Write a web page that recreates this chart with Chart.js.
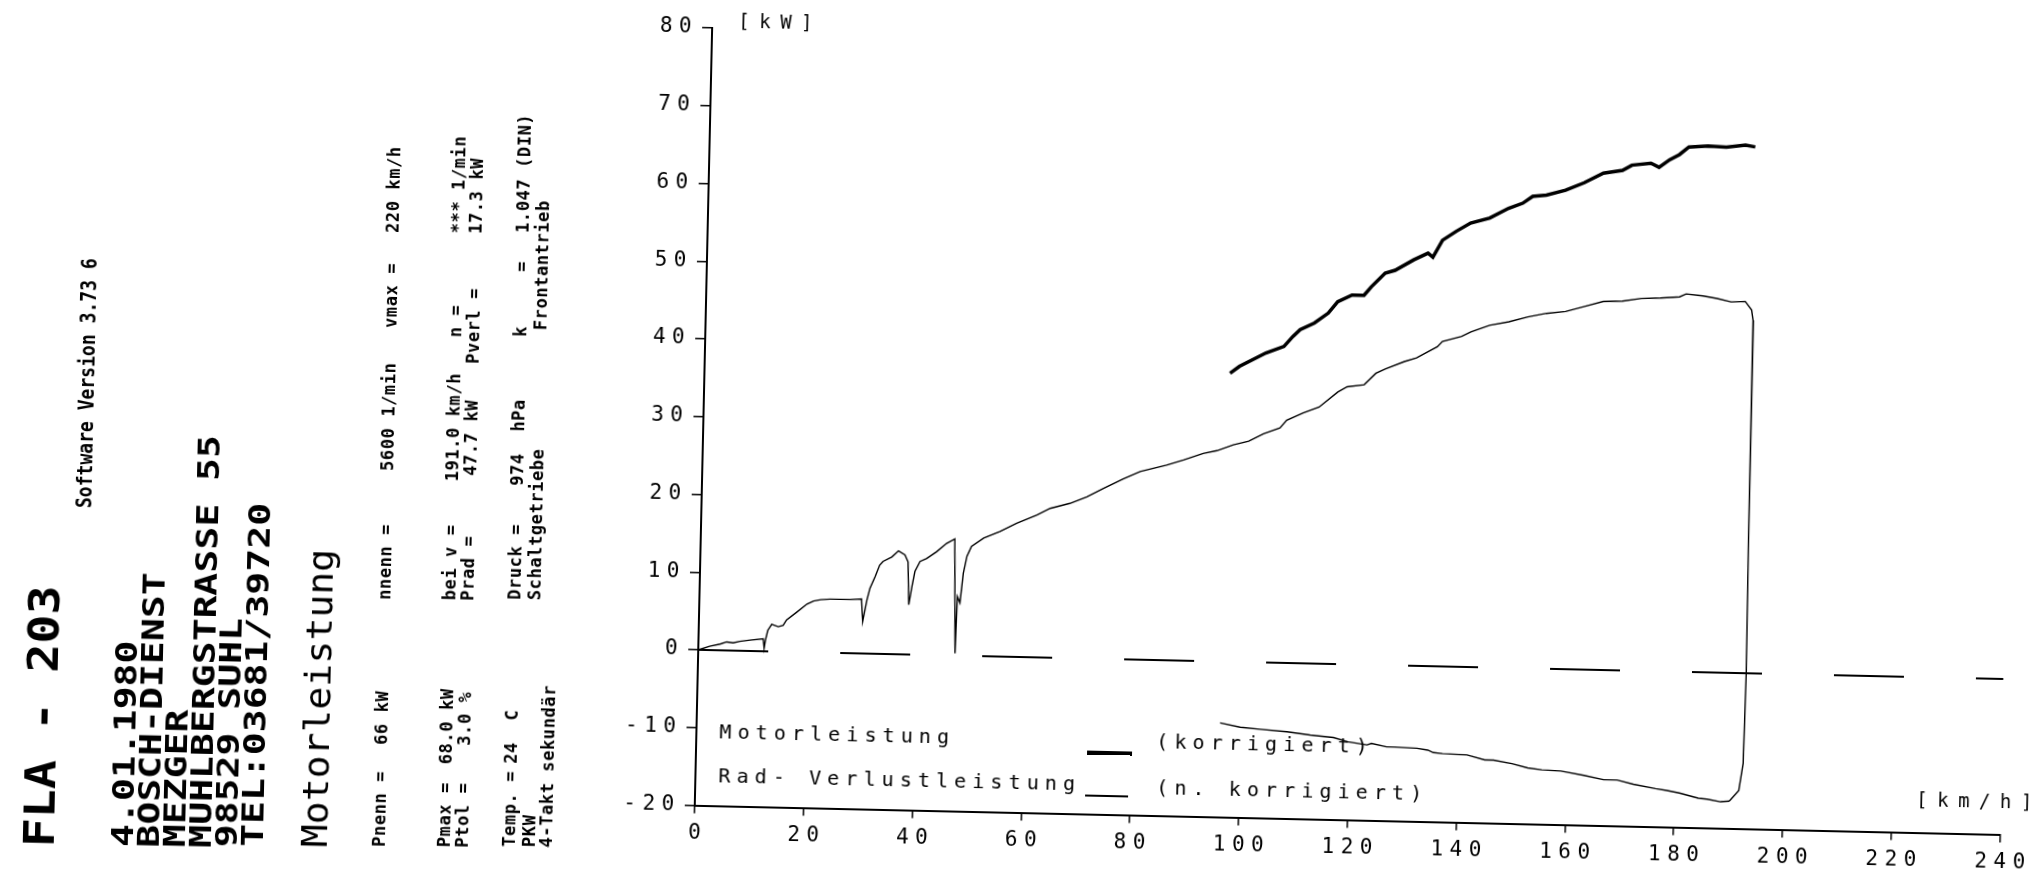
<!DOCTYPE html>
<html>
<head>
<meta charset="utf-8">
<title>Motorleistung</title>
<script src="https://cdn.jsdelivr.net/npm/chart.js@4.4.1/dist/chart.umd.min.js"></script>
<style>
  html, body { margin: 0; padding: 0; background: #fff; overflow: hidden; }
  #page {
    position: absolute; left: 0; top: 0; width: 2043px; height: 881px;
    transform-origin: 1021.5px 440.5px; transform: rotate(1.28deg);
  }
  #chart { position: absolute; left: 0; top: 0; }
  .vt {
    position: absolute; transform-origin: 0 0; white-space: pre; line-height: 1;
    font-family: "DejaVu Sans Mono", monospace; color: #000;
  }
  .fla { font-size: 42px; font-weight: bold; }
  .big { font-size: 30px; font-weight: bold; }
  .soft { font-size: 22px; font-weight: bold; }
  .motor { font-size: 35px; }
  .small { font-size: 17px; font-weight: bold; letter-spacing: 0.6px; }
  .leg {
    position: absolute; white-space: pre; line-height: 1; color: #000;
    font-family: "DejaVu Sans Mono", monospace; font-size: 20px; letter-spacing: 6.1px;
  }
  .mark { position: absolute; background: #000; }
</style>
</head>
<body>
<div id="page">
  <canvas id="chart" width="2100" height="881" style="width:2100px;height:881px"></canvas>

  <div class="leg" style="left:726px;top:728px">Motorleistung</div>
  <div class="mark" style="left:1094px;top:749px;width:45px;height:3.5px"></div>
  <div class="leg" style="left:1163px;top:728px">(korrigiert)</div>
  <div class="leg" style="left:726px;top:772px">Rad- Verlustleistung</div>
  <div class="mark" style="left:1093px;top:793px;width:43px;height:1.5px"></div>
  <div class="leg" style="left:1164px;top:774px">(n. korrigiert)</div>
</div>

<script>
// speed axis [km/h] and power axis [kW]
const kmhTicks = [0, 20, 40, 60, 80, 100, 120, 140, 160, 180, 200, 220, 240];
const kwTicks = [-20, -10, 0, 10, 20, 30, 40, 50, 60, 70, 80];

// Motorleistung (korrigiert), thick line
const motorKmh = [96.6, 98.3, 100.7, 103.1, 106.4, 108.0, 109.3, 111.9, 114.4, 116.1, 118.7, 120.9,
  122.2, 124.7, 126.5, 129.9, 132.5, 133.4, 135.1, 137.6, 140.2, 143.7, 147.1, 149.7, 151.5, 154.0,
  157.5, 160.9, 164.4, 167.9, 169.6, 173.1, 174.6, 176.5, 178.3, 180.0, 183.5, 186.9, 190.4, 192.2];
const motorKw = [37.1, 38.0, 38.9, 39.8, 40.7, 42.0, 42.9, 43.8, 45.1, 46.6, 47.5, 47.5,
  48.6, 50.4, 50.8, 52.2, 53.1, 52.6, 54.8, 56.0, 57.1, 57.8, 59.1, 59.8, 60.7, 60.9,
  61.6, 62.6, 63.9, 64.3, 65.0, 65.3, 64.8, 65.8, 66.5, 67.5, 67.7, 67.6, 67.9, 67.7];

// Radleistung, thin line, run up to v max and the drop at the end
const radKmh = [0, 2.1, 4.0, 5.2, 6.4, 7.6, 9.5, 11.9, 12.1, 12.3, 12.7, 13.4, 14.6, 15.5, 16.1,
  17.9, 19.8, 21.0, 22.3, 24.0, 27.7, 29.8, 30.1, 30.8, 31.3, 32.2, 33.0, 33.6, 35.2, 36.4, 37.6,
  38.2, 38.5, 39.0, 39.5, 40.4, 41.6, 43.4, 45.2, 46.7, 47.2, 47.4, 47.9, 48.4, 49.0, 49.8, 52.0,
  55.0, 58.0, 61.7, 64.1, 67.7, 70.8, 73.8, 77.4, 80.5, 85.3, 88.4, 92.0, 94.5, 97.5, 100.3, 103.0,
  106.0, 107.2, 110.2, 113.1, 116.5, 118.2, 121.3, 123.4, 125.1, 128.6, 130.8, 134.6, 135.5, 139.0,
  140.7, 144.1, 147.6, 151.1, 154.5, 158.0, 161.5, 164.9, 168.4, 171.9, 175.4, 178.9, 180.1, 183.2,
  185.8, 188.4, 191.0, 192.2, 192.5, 192.6, 192.5, 192.6, 192.7, 192.5, 191.8, 190.1];
const radKw = [0, 0.5, 0.8, 1.1, 1.0, 1.2, 1.4, 1.6, 0.4, 1.4, 2.7, 3.5, 3.2, 3.4, 4.1,
  5.1, 6.2, 6.6, 6.8, 6.9, 6.9, 7.0, 4.1, 6.9, 8.4, 9.9, 11.4, 11.9, 12.5, 13.3, 12.8,
  11.9, 6.4, 8.7, 10.7, 12.0, 12.4, 13.3, 14.4, 15.0, 0.3, 7.6, 6.8, 10.6, 12.8, 14.1, 15.2,
  16.1, 17.2, 18.3, 19.2, 19.9, 20.8, 21.9, 23.2, 24.2, 25.1, 25.8, 26.7, 27.1, 27.9, 28.4, 29.4,
  30.2, 31.2, 32.2, 33.0, 35.0, 35.7, 36.0, 37.5, 38.1, 39.1, 39.6, 41.1, 41.8, 42.5,
  43.1, 44.0, 44.5, 45.2, 45.7, 46.0, 46.7, 47.4, 47.5, 47.9, 48.0, 48.2, 48.6, 48.4,
  48.1, 47.7, 47.8, 46.7, 45.4, 41.6, 28.7, 15.9, 0.4, -11.6, -15.1, -16.5];

// Verlustleistung, thin line back from v max
const verlustKmh = [190.1, 188.5, 186.0, 184.4, 180.9, 178.6, 176.5, 172.4, 169.4, 166.9, 163.3,
  159.0, 155.5, 152.9, 150.0, 146.6, 145.0, 141.7, 137.2, 135.5, 134.5, 132.5, 128.4, 126.9, 124.1,
  123.3, 119.7, 117.1, 112.8, 108.5, 103.6, 99.9, 96.2];
const verlustKw = [-16.5, -16.6, -16.3, -16.2, -15.6, -15.3, -15.1, -14.6, -14.1, -14.1, -13.6,
  -13.1, -13.0, -12.8, -12.3, -11.9, -11.9, -11.3, -11.2, -11.1, -10.8, -10.6, -10.5, -10.5, -10.1,
  -10.3, -9.95, -9.45, -9.2, -8.85, -8.6, -8.4, -7.9];

// dashed zero line
const nullKmh = [0, 240];
const nullKw = [0, 0];

function points(xs, ys) {
  return xs.map((x, i) => ({ x: x, y: ys[i] }));
}

function line(data, width, dash) {
  return {
    data: data,
    borderColor: "#000",
    borderWidth: width,
    borderDash: dash || [],
    pointRadius: 0,
    tension: 0,
    fill: false
  };
}

const page = document.getElementById("page");

// rotated print-out header on the left: left, start (bottom), class, squeeze, text
const infoLines = [
  [28, 869, "fla", 1.15, "FLA - 203"],
  [74.5, 529, "soft", 0.82, "Software Version 3.73 6"],
  [116.5, 867, "big", 1.27, "4.01.1980"],
  [142.5, 867, "big", 1.27, "BOSCH-DIENST"],
  [168.5, 866, "big", 1.27, "MEZGER"],
  [194.5, 866, "big", 1.27, "MUHLBERGSTRASSE 55"],
  [220.5, 865, "big", 1.27, "98529 SUHL"],
  [246.5, 864, "big", 1.27, "TEL:03681/39720"],
  [307, 863, "motor", 1.09, "Motorleistung"],

  [380, 861, "small", 1, "Pnenn ="],
  [380, 759, "small", 1, "66 kW"],
  [380, 614, "small", 1, "nnenn ="],
  [380, 485, "small", 1, "5600 1/min"],
  [380, 342, "small", 1, "vmax ="],
  [380, 247, "small", 1, "220 km/h"],

  [445, 860, "small", 1, "Pmax ="],
  [445, 777, "small", 1, "68.0 kW"],
  [445, 613, "small", 1, "bei v ="],
  [445, 494, "small", 1, "191.0 km/h"],
  [445, 350, "small", 1, "n ="],
  [445, 246, "small", 1, "*** 1/min"],

  [463, 860, "small", 1, "Ptol ="],
  [463, 758, "small", 1, "3.0 %"],
  [463, 613, "small", 1, "Prad ="],
  [463, 488, "small", 1, "47.7 kW"],
  [463, 376, "small", 1, "Pverl ="],
  [463, 246, "small", 1, "17.3 kW"],

  [510, 858, "small", 1, "Temp. ="],
  [510, 775, "small", 1, "24  C"],
  [510, 611, "small", 1, "Druck ="],
  [510, 497, "small", 1, "974  hPa"],
  [510, 348, "small", 1, "k     ="],
  [510, 244, "small", 1, "1.047 (DIN)"],

  [530, 858, "small", 1, "PKW"],
  [530, 611, "small", 1, "Schaltgetriebe"],
  [530, 341, "small", 1, "Frontantrieb"],

  [547, 858, "small", 1, "4-Takt sekundär"]
];

infoLines.forEach(l => {
  const d = document.createElement("div");
  d.className = "vt " + l[2];
  d.style.left = l[0] + "px";
  d.style.top = l[1] + "px";
  d.style.transform = "rotate(-90deg) scaleX(" + l[3] + ")";
  d.textContent = l[4];
  page.appendChild(d);
});

const plotterFont = { family: "DejaVu Sans Mono", size: 21 };

// wide plotter lettering plus the unit labels
const plotterText = {
  id: "plotterText",
  beforeDraw(chart) {
    chart.ctx.letterSpacing = "6.5px";
  },
  afterDraw(chart) {
    const ctx = chart.ctx;
    const a = chart.chartArea;
    ctx.save();
    ctx.fillStyle = "#000";
    ctx.font = "19px 'DejaVu Sans Mono'";
    ctx.letterSpacing = "9.5px";
    ctx.textBaseline = "top";
    ctx.textAlign = "left";
    ctx.fillText("[kW]", a.left + 26, a.top - 15);
    ctx.fillText("[km/h]", 1924, 772);
    ctx.restore();
  }
};

new Chart(document.getElementById("chart"), {
  type: "line",
  data: {
    datasets: [
      line(points(motorKmh, motorKw), 3.5),
      line(points(radKmh, radKw), 1.4),
      line(points(verlustKmh, verlustKw), 1.4),
      line(points(nullKmh, nullKw), 2, [70, 72])
    ]
  },
  options: {
    responsive: false,
    animation: false,
    events: [],
    layout: { padding: { left: 0, top: 35, right: 91.4, bottom: 0 } },
    plugins: { legend: { display: false }, tooltip: { enabled: false } },
    scales: {
      x: {
        type: "linear",
        min: 0,
        max: 240,
        afterBuildTicks: s => { s.ticks = kmhTicks.map(v => ({ value: v })); },
        afterFit: s => { s.height = 68.5; },
        grid: { drawOnChartArea: false, drawTicks: true, tickLength: 8, color: "#000", lineWidth: 1.5 },
        border: { display: true, color: "#000", width: 2 },
        ticks: { color: "#000", font: plotterFont, padding: 7, maxRotation: 0, labelOffset: 3.5, autoSkip: false }
      },
      y: {
        type: "linear",
        min: -20,
        max: 80,
        afterBuildTicks: s => { s.ticks = kwTicks.map(v => ({ value: v })); },
        afterFit: s => { s.width = 703; },
        grid: { drawOnChartArea: false, drawTicks: true, tickLength: 10, color: "#000", lineWidth: 1.5 },
        border: { display: true, color: "#000", width: 2 },
        ticks: { color: "#000", font: plotterFont, padding: 4, autoSkip: false }
      }
    }
  },
  plugins: [plotterText]
});
</script>
</body>
</html>
